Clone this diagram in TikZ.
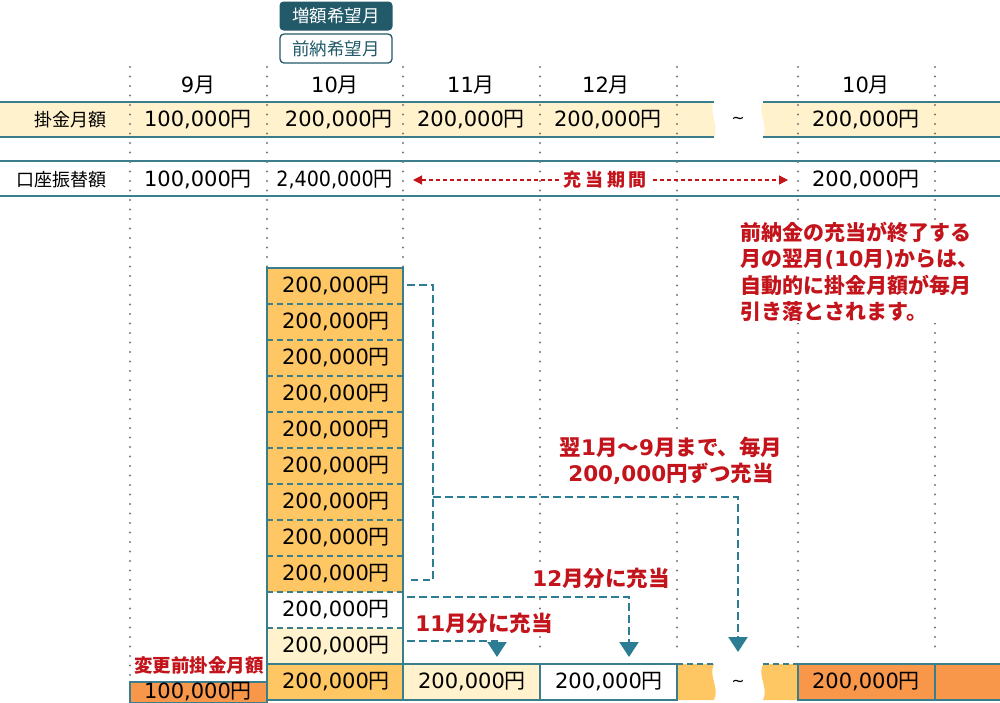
\documentclass[tikz,border=0pt]{standalone}
\usepackage{fontspec}
\setmainfont{Noto Sans CJK JP}
\newfontfamily\lat{DejaVu Sans}
\usetikzlibrary{arrows.meta}
\definecolor{tl}{HTML}{3A7E8E}
\definecolor{dteal}{HTML}{225A6A}
\definecolor{lyel}{HTML}{FFF2CC}
\definecolor{gold}{HTML}{FFC763}
\definecolor{dorg}{HTML}{F8964A}
\definecolor{jred}{HTML}{C3141C}
\definecolor{dotg}{HTML}{777777}
\definecolor{cteal}{HTML}{2C7D93}
\newcommand\amt[1]{{\lat #1}円}
\begin{document}
\begin{tikzpicture}[x=1pt,y=-1pt,
  txt/.style={inner sep=0pt, font=\fontsize{21}{24}\selectfont},
  lab/.style={inner sep=0pt, font=\fontsize{18}{22}\selectfont},
  redt/.style={inner sep=1.5pt, fill=white, text=jred, font=\fontsize{21.5}{26.5}\selectfont\bfseries},
  dotln/.style={dotg, line width=2.2pt, line cap=round, dash pattern=on 0pt off 9.5pt},
  sepln/.style={tl, line width=1.8pt, dash pattern=on 6pt off 4pt},
  cellln/.style={tl, line width=1.5pt},
  conline/.style={cteal, line width=2.2pt, dash pattern=on 7.5pt off 4.5pt},
  arrowtip/.style={-{Triangle[width=19pt,length=15pt]}},
  tild/.style={inner sep=0pt, font=\lat\fontsize{16}{16}\selectfont}
]
\useasboundingbox (0,0) rectangle (1000,702);

% header boxes
\node[fill=dteal, text=white, rounded corners=4pt, minimum width=113pt, minimum height=29pt, inner sep=0pt, font=\fontsize{17.5}{20}\selectfont] (zg) at (336,16) {増額希望月};
\node[draw=dteal, line width=1.3pt, fill=white, text=dteal, rounded corners=4pt, minimum width=112pt, minimum height=29pt, inner sep=0pt, font=\fontsize{17.5}{20}\selectfont] (zn) at (336,48.5) {前納希望月};

% row 1 band
\fill[lyel] (0,101) -- (714,101) .. controls (708,113) and (720,126) .. (714,138) -- (0,138) -- cycle;
\fill[lyel] (763,101) .. controls (757,113) and (769,126) .. (763,138) -- (1000,138) -- (1000,101) -- cycle;
\draw[tl, line width=2.6pt] (0,102) -- (714,102) (763,102) -- (1000,102) (0,137) -- (714,137) (763,137) -- (1000,137);
\draw[tl, line width=1.4pt] (0,161) -- (1000,161) (0,196) -- (1000,196);

% dotted column lines
\foreach \x/\b in {130/677, 267/268, 403/268, 540/652, 677/652, 798/652, 935/652}
  \draw[dotln] (\x,67) -- (\x,\b);

% stack fills
\fill[gold] (267,268) rectangle (403,592);
\fill[lyel] (267,628) rectangle (403,664);
\fill[gold] (267,664) rectangle (403,700);
\fill[lyel] (403,664) rectangle (540,700);
\fill[gold] (677,664) -- (714,664) .. controls (708,676) and (720,688) .. (714,700) -- (677,700) -- cycle;
\fill[gold] (763,664) .. controls (757,676) and (769,688) .. (763,700) -- (798,700) -- (798,664) -- cycle;
\fill[dorg] (798,664) rectangle (1000,700);
\fill[dorg] (130,682) rectangle (267,703);

\foreach \y in {304,340,376,412,448,484,520,556,592,628}
  \draw[sepln] (267,\y) -- (403,\y);
\draw[cellln] (267,268) rectangle (403,700);
\draw[cellln] (267,664) -- (677,664) -- (677,700) -- (267,700);
\draw[cellln] (540,664) -- (540,700);
\draw[cellln] (1001,664) -- (798,664) -- (798,700) -- (1001,700);
\draw[cellln] (935,664) -- (935,700);
\draw[cellln] (130,682) rectangle (267,703);
\draw[sepln] (677,664) -- (714,664) (763,664) -- (798,664);

% month headers
\node[txt] (h9) at (198,85) {{\lat 9}月};
\node[txt] (h10) at (335,85) {{\lat 10}月};
\node[txt] (h11) at (471,85) {{\lat 11}月};
\node[txt] (h12) at (606,85) {{\lat 12}月};
\node[txt] (h10b) at (866,85) {{\lat 10}月};

% row labels
\node[lab, anchor=east] (kk) at (107,120) {掛金月額};
\node[lab, anchor=east] (kz) at (107,180) {口座振替額};

% row 1 values
\node[txt] (r1a) at (198,120) {\amt{100,000}};
\node[txt, anchor=east] (r1b) at (393,120) {\amt{200,000}};
\node[txt] (r1c) at (471,120) {\amt{200,000}};
\node[txt] (r1d) at (608,120) {\amt{200,000}};
\node[tild] (r1t) at (738,120) {\textasciitilde};
\node[txt] (r1e) at (866,120) {\amt{200,000}};

% row 2 values
\node[txt] (r2a) at (198,180) {\amt{100,000}};
\node[txt, anchor=east] (r2b) at (393,180) {\scalebox{0.91}[1]{\amt{2,400,000}}};
\node[txt] (r2e) at (866,180) {\amt{200,000}};

% charging period arrow
\coordinate (pa) at (413,180);
\coordinate (pb) at (788,180);
\draw[jred, line width=1.2pt, dash pattern=on 4pt off 3pt, {Triangle[width=9pt,length=9pt]}-{Triangle[width=9pt,length=9pt]}] (pa) -- (pb);
\node[fill=white, inner sep=3pt, text=jred, font=\fontsize{18}{20}\selectfont\bfseries] (kt) at (605,180) {充\kern4pt 当\kern4pt 期\kern4pt 間};

% stack texts
\foreach \i/\y in {1/286,2/322,3/358,4/394,5/430,6/466,7/502,8/538,9/574}
  \node[txt] (s\i) at (336,\y) {\amt{200,000}};
\node[txt] (sw) at (336,610) {\amt{200,000}};
\node[txt] (sy) at (336,646) {\amt{200,000}};
\node[txt] (b10) at (336,682) {\amt{200,000}};
\node[txt] (b11) at (472,682) {\amt{200,000}};
\node[txt] (b12) at (609,682) {\amt{200,000}};
\node[tild] (bt) at (738,683) {\textasciitilde};
\node[txt] (b10b) at (866,682) {\amt{200,000}};
\node[txt] (b9) at (198,691.5) {\amt{100,000}};
\node[redt, fill=none, inner sep=0pt, font=\fontsize{18.5}{20}\selectfont\bfseries] (hk) at (199,665) {変更前掛金月額};

% connectors
\coordinate (q1) at (407,285);
\coordinate (q2) at (433,285);
\coordinate (q3) at (433,580);
\coordinate (q4) at (407,580);
\draw[conline] (q1) -- (q2) -- (q3) -- (q4);
\coordinate (qm) at (433,497);
\coordinate (ta) at (738,652);
\draw[conline, arrowtip] (qm) -| (ta);
\coordinate (w1) at (407,597);
\coordinate (tb) at (629,657);
\draw[conline, arrowtip] (w1) -| (tb);
\coordinate (y1) at (407,641);
\coordinate (tc) at (497,657);
\draw[conline, arrowtip] (y1) -| (tc);

% red labels
\node[redt, align=center] (l19) at (671,461) {翌{\lat 1}月～{\lat 9}月まで、毎月\\{\lat 200,000}円ずつ充当};
\node[redt] (l12) at (601,578) {{\lat 12}月分に充当};
\node[redt] (l11) at (484,623) {{\lat 11}月分に充当};
\node[redt, align=left, anchor=north west, font=\fontsize{21}{26.5}\selectfont\bfseries] (note) at (739,220) {前納金の充当が終了する\\月の翌月{\lat (10}月{\lat )}からは、\\自動的に掛金月額が毎月\\引き落とされます。};
\end{tikzpicture}
\end{document}
